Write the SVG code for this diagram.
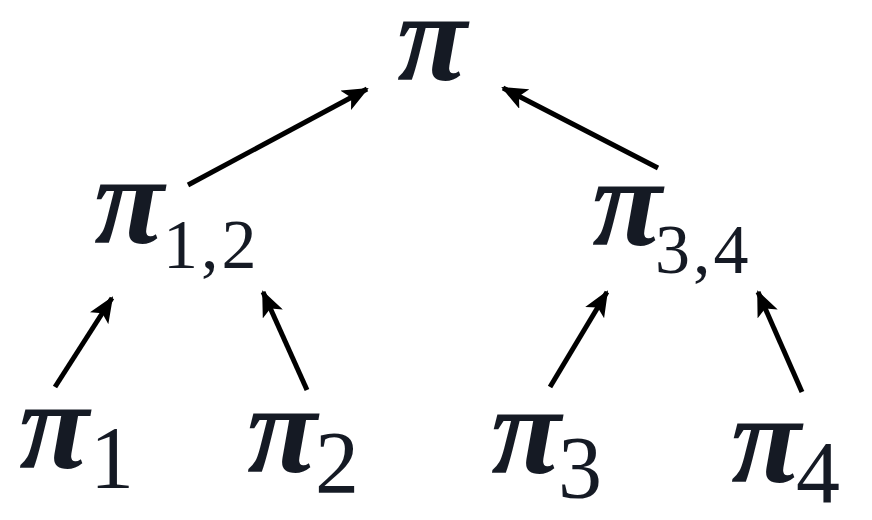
<svg xmlns="http://www.w3.org/2000/svg" width="872" height="520" viewBox="0 0 872 520">
<style>
.pi{font-family:"Liberation Serif","Times New Roman",serif;font-weight:bold;font-style:italic;font-size:128px;fill:#151a24}
.sub{font-family:"Liberation Serif","Times New Roman",serif;font-size:70px;fill:#151a24;letter-spacing:3px}
.sub2{font-family:"Liberation Serif","Times New Roman",serif;font-size:88px;fill:#151a24}
.edge{stroke:#000;stroke-width:5;fill:none;marker-end:url(#ah)}
</style>
<defs>
<marker id="ah" markerUnits="userSpaceOnUse" markerWidth="26" markerHeight="22" refX="24" refY="11" orient="auto">
<path d="M0,0 L26,11 L0,22 L6,11 Z" fill="#000"/>
</marker>
</defs>
<rect width="872" height="520" fill="#fff"/>
<g id="connectors">
<line class="edge" x1="188" y1="185" x2="367" y2="89"/>
<line class="edge" x1="658" y1="168" x2="503" y2="88"/>
<line class="edge" x1="55" y1="387" x2="112" y2="298"/>
<line class="edge" x1="307" y1="390" x2="263" y2="292"/>
<line class="edge" x1="550" y1="387" x2="607" y2="292"/>
<line class="edge" x1="802" y1="392" x2="758" y2="292"/>
</g>
<g id="pi"><text class="pi" x="397" y="80">π</text></g>
<g id="pi12"><text class="pi" x="94" y="243">π</text><text class="sub" x="163" y="268">1,2</text></g>
<g id="pi34"><text class="pi" x="592" y="245">π</text><text class="sub" x="655" y="273">3,4</text></g>
<g id="pi1"><text class="pi" x="19" y="468">π</text><text class="sub2" x="90" y="487">1</text></g>
<g id="pi2"><text class="pi" x="247" y="472">π</text><text class="sub2" x="315" y="492">2</text></g>
<g id="pi3"><text class="pi" x="491" y="473">π</text><text class="sub2" x="558" y="497">3</text></g>
<g id="pi4"><text class="pi" x="731" y="482">π</text><text class="sub2" x="796" y="502">4</text></g>
</svg>
